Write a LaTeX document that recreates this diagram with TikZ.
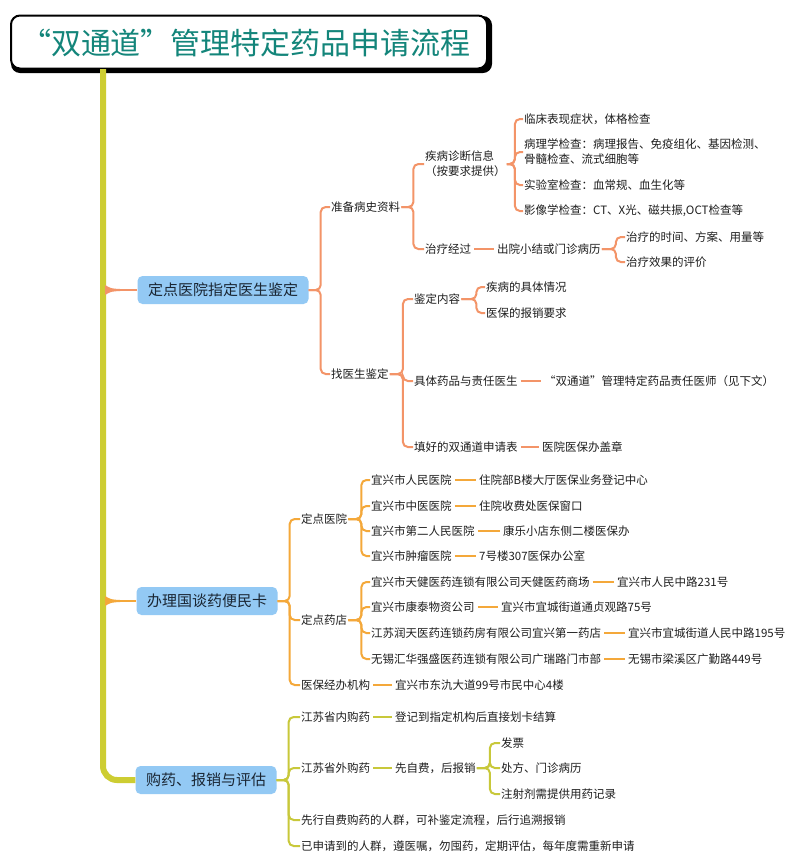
\documentclass[tikz,border=0pt]{standalone}
\usepackage{fontspec}
\setmainfont{Noto Sans CJK SC}
\definecolor{boxblue}{HTML}{93C9F4}
\definecolor{boxtxt}{HTML}{1A2633}
\definecolor{txt}{HTML}{1E1E1E}
\definecolor{cA}{HTML}{F39468}
\definecolor{cB}{HTML}{F4A83A}
\definecolor{cC}{HTML}{C8C83A}
\definecolor{trunkc}{HTML}{CDCD32}
\definecolor{teal}{HTML}{13857A}
\newcommand\leaffont{\fontsize{11.5}{15}\selectfont}
\newcommand\topicfont{\fontsize{15}{18}\selectfont}
\newcommand\titlefont{\fontsize{30}{33}\selectfont}
\tikzset{
  leaf/.style={anchor=west, inner xsep=1pt, inner ysep=1pt, font=\leaffont, text=txt},
  topic/.style={rounded corners=5pt, fill=boxblue, minimum height=28pt, inner xsep=10.5pt, font=\topicfont, text=boxtxt},
  lnA/.style={draw=cA, line width=2pt, rounded corners=5pt},
  lnB/.style={draw=cB, line width=2pt, rounded corners=5pt},
  lnC/.style={draw=cC, line width=2pt, rounded corners=5pt},
}
\newcommand\mybranch[4]{\draw[#1] (#2.east) -- ++(#3,0) |- (#4.west);}
\newcommand\mylink[3]{\draw[#1, shorten <=2pt, shorten >=2pt] (#2.east) -- (#3.west);}
\begin{document}
\begin{tikzpicture}[x=1pt,y=-1pt]
\useasboundingbox (0,0) rectangle (800,863);
\fill[white] (0,0) rectangle (800,863);

% title
\fill[black, rounded corners=9pt] (11,16) rectangle (492,73);
\node[draw=black, line width=2pt, fill=white, rounded corners=9pt, minimum width=476pt, minimum height=53pt, inner sep=0pt] (title) at (249,42) {};
\node[font=\titlefont, text=teal] (titletext) at (246,43) {“双通道”管理特定药品申请流程};

% topics
\node[topic] (b1) at (223,290) {定点医院指定医生鉴定};
\node[topic] (b2) at (207,601) {办理国谈药便民卡};
\node[topic] (b3) at (206,780) {购药、报销与评估};

% trunk
\coordinate (t0) at (103,69);
\draw[trunkc, line width=6pt, rounded corners=14pt] (t0) |- (b3.west);
\fill[cA] (105,285) .. controls (111,288.5) .. (120,289) -- (120,291) .. controls (111,291.5) .. (105,295) -- cycle;
\draw[cA, line width=2.4pt] (118,290) -- (b1.west);
\fill[cB] (105,596) .. controls (111,599.5) .. (120,600) -- (120,602) .. controls (111,602.5) .. (105,606) -- cycle;
\draw[cB, line width=2.4pt] (118,601) -- (b2.west);

% ---- subtree 1
\node[leaf] (a1) at (330,207) {准备病史资料};
\node[leaf] (a2) at (330,374) {找医生鉴定};
\node[leaf, align=left] (a11) at (424,164) {疾病诊断信息\\（按要求提供）};
\node[leaf] (a12) at (424,249) {治疗经过};
\node[leaf] (a111) at (523,119) {临床表现症状，体格检查};
\node[leaf, align=left] (a112) at (523,152) {病理学检查：病理报告、免疫组化、基因检测、\\骨髓检查、流式细胞等};
\node[leaf] (a113) at (523,185) {实验室检查：血常规、血生化等};
\node[leaf] (a114) at (523,211) {影像学检查：CT、X光、磁共振,OCT检查等};
\node[leaf] (a121) at (496,249) {出院小结或门诊病历};
\node[leaf] (a1211) at (625,237) {治疗的时间、方案、用量等};
\node[leaf] (a1212) at (625,262) {治疗效果的评价};
\node[leaf] (a21) at (413,299) {鉴定内容};
\node[leaf] (a22) at (413,381) {具体药品与责任医生};
\node[leaf] (a23) at (413,447) {填好的双通道申请表};
\node[leaf] (a211) at (485,287) {疾病的具体情况};
\node[leaf] (a212) at (485,313) {医保的报销要求};
\node[leaf] (a221) at (543,381) {“双通道”管理特定药品责任医师（见下文）};
\node[leaf] (a231) at (541,447) {医院医保办盖章};

\mybranch{lnA}{b1}{12}{a1}
\mybranch{lnA}{b1}{12}{a2}
\mybranch{lnA}{a1}{12}{a11}
\mybranch{lnA}{a1}{12}{a12}
\mybranch{lnA}{a11}{8}{a111}
\mybranch{lnA}{a11}{8}{a112}
\mybranch{lnA}{a11}{8}{a113}
\mybranch{lnA}{a11}{8}{a114}
\mylink{lnA}{a12}{a121}
\mybranch{lnA}{a121}{14}{a1211}
\mybranch{lnA}{a121}{14}{a1212}
\mybranch{lnA}{a2}{13}{a21}
\mybranch{lnA}{a2}{13}{a22}
\mybranch{lnA}{a2}{13}{a23}
\mybranch{lnA}{a21}{15}{a211}
\mybranch{lnA}{a21}{15}{a212}
\mylink{lnA}{a22}{a221}
\mylink{lnA}{a23}{a231}

% ---- subtree 2
\node[leaf] (c1) at (300,519) {定点医院};
\node[leaf] (c2) at (300,620) {定点药店};
\node[leaf] (c3) at (300,685) {医保经办机构};
\node[leaf] (c11) at (370,480) {宜兴市人民医院};
\node[leaf] (c12) at (370,506) {宜兴市中医医院};
\node[leaf] (c13) at (370,531) {宜兴市第二人民医院};
\node[leaf] (c14) at (370,556) {宜兴市肿瘤医院};
\node[leaf] (c111) at (478,480) {住院部B楼大厅医保业务登记中心};
\node[leaf] (c121) at (478,506) {住院收费处医保窗口};
\node[leaf] (c131) at (502,531) {康乐小店东侧二楼医保办};
\node[leaf] (c141) at (478,556) {7号楼307医保办公室};
\node[leaf] (c21) at (370,582) {宜兴市天健医药连锁有限公司天健医药商场};
\node[leaf] (c22) at (370,607) {宜兴市康泰物资公司};
\node[leaf] (c23) at (370,633) {江苏润天医药连锁药房有限公司宜兴第一药店};
\node[leaf] (c24) at (370,659) {无锡汇华强盛医药连锁有限公司广瑞路门市部};
\node[leaf] (c211) at (616,582) {宜兴市人民中路231号};
\node[leaf] (c221) at (500,607) {宜兴市宜城街道通贞观路75号};
\node[leaf] (c231) at (627,633) {宜兴市宜城街道人民中路195号};
\node[leaf] (c241) at (627,659) {无锡市梁溪区广勤路449号};
\node[leaf] (c31) at (394,685) {宜兴市东氿大道99号市民中心4楼};

\mybranch{lnB}{b2}{12}{c1}
\mybranch{lnB}{b2}{12}{c2}
\mybranch{lnB}{b2}{12}{c3}
\mybranch{lnB}{c1}{13}{c11}
\mybranch{lnB}{c1}{13}{c12}
\mybranch{lnB}{c1}{13}{c13}
\mybranch{lnB}{c1}{13}{c14}
\mybranch{lnB}{c2}{13}{c21}
\mybranch{lnB}{c2}{13}{c22}
\mybranch{lnB}{c2}{13}{c23}
\mybranch{lnB}{c2}{13}{c24}
\mylink{lnB}{c11}{c111}
\mylink{lnB}{c12}{c121}
\mylink{lnB}{c13}{c131}
\mylink{lnB}{c14}{c141}
\mylink{lnB}{c21}{c211}
\mylink{lnB}{c22}{c221}
\mylink{lnB}{c23}{c231}
\mylink{lnB}{c24}{c241}
\mylink{lnB}{c3}{c31}

% ---- subtree 3
\node[leaf] (d1) at (300,717) {江苏省内购药};
\node[leaf] (d2) at (300,768) {江苏省外购药};
\node[leaf] (d3) at (300,820) {先行自费购药的人群，可补鉴定流程，后行追溯报销};
\node[leaf] (d4) at (300,846) {已申请到的人群，遵医嘱，勿囤药，定期评估，每年度需重新申请};
\node[leaf] (d11) at (394,717) {登记到指定机构后直接划卡结算};
\node[leaf] (d21) at (394,768) {先自费，后报销};
\node[leaf] (d211) at (500,743) {发票};
\node[leaf] (d212) at (500,768) {处方、门诊病历};
\node[leaf] (d213) at (500,794) {注射剂需提供用药记录};

\mybranch{lnC}{b3}{12}{d1}
\mybranch{lnC}{b3}{12}{d2}
\mybranch{lnC}{b3}{12}{d3}
\mybranch{lnC}{b3}{12}{d4}
\mylink{lnC}{d1}{d11}
\mylink{lnC}{d2}{d21}
\mybranch{lnC}{d21}{13}{d211}
\mybranch{lnC}{d21}{13}{d212}
\mybranch{lnC}{d21}{13}{d213}
\end{tikzpicture}
\end{document}
